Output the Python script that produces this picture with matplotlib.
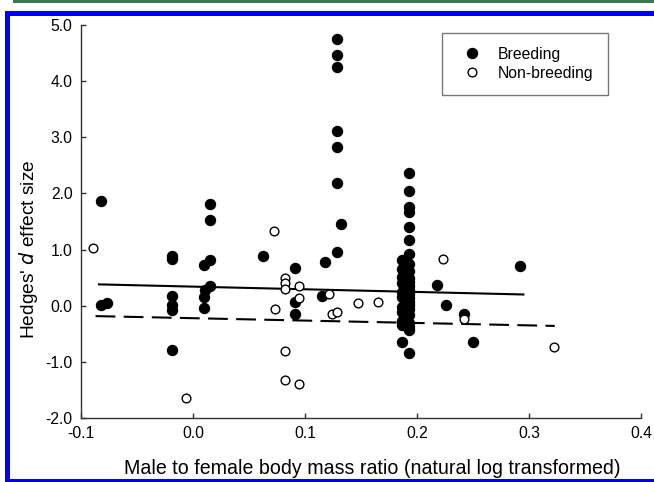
import numpy as np
import matplotlib
matplotlib.use("Agg")
import matplotlib.pyplot as plt
from matplotlib.patches import Rectangle

plt.rcParams['font.family'] = ['Liberation Sans', 'DejaVu Sans']
plt.rcParams['axes.unicode_minus'] = False

# Breeding (filled circles)
breed_x = [-0.0825, -0.082, -0.077,
           -0.019, -0.019, -0.019, -0.019, -0.019, -0.019,
           0.0155, 0.0155, 0.0155, 0.0155, 0.011, 0.010, 0.010, 0.010,
           0.0627, 0.091, 0.091, 0.091, 0.115, 0.118, 0.129, 0.132,
           0.129, 0.129, 0.129, 0.129, 0.129, 0.129,
           0.193, 0.193, 0.193, 0.193, 0.193, 0.193, 0.193, 0.193, 0.193,
           0.193, 0.193, 0.193, 0.193, 0.193, 0.193, 0.193, 0.193, 0.193,
           0.193, 0.193, 0.193, 0.193, 0.193,
           0.187, 0.187, 0.187, 0.187, 0.187, 0.187, 0.187, 0.187, 0.187,
           0.187, 0.187,
           0.218, 0.2256, 0.2416, 0.2496, 0.2917]
breed_y = [1.87, 0.01, 0.05,
           0.89, 0.83, 0.17, 0.01, -0.08, -0.79,
           1.81, 1.52, 0.81, 0.36, 0.28, 0.72, 0.16, -0.04,
           0.89, 0.68, 0.06, -0.155, 0.17, 0.78, 0.96, 1.45,
           4.75, 4.46, 4.25, 3.11, 2.82, 2.19,
           2.37, 2.05, 1.76, 1.67, 1.40, 1.17, 0.93, 0.75, 0.61,
           0.50, 0.43, 0.35, 0.28, 0.20, 0.13, 0.06, 0.01, -0.05,
           -0.17, -0.30, -0.38, -0.43, -0.85,
           0.81, 0.65, 0.52, 0.40, 0.25, 0.16, -0.02, -0.11, -0.27,
           -0.35, -0.64,
           0.37, 0.01, -0.155, -0.64, 0.71]

# Non-breeding (open circles)
nonbreed_x = [-0.089, -0.006, 0.0724, 0.073, 0.082, 0.082, 0.082, 0.082, 0.082,
              0.0947, 0.0947, 0.095, 0.121, 0.124, 0.129, 0.147, 0.165,
              0.2236, 0.2416, 0.322]
nonbreed_y = [1.02, -1.65, 1.33, -0.05, 0.49, 0.41, 0.30, -0.81, -1.33,
              0.35, 0.13, -1.40, 0.20, -0.155, -0.12, 0.05, 0.07,
              0.84, -0.23, -0.74]

# fitted regression lines (end points)
fit_breed_x = [-0.084, 0.295]
fit_breed_y = [0.38, 0.20]
fit_nonbreed_x = [-0.087, 0.323]
fit_nonbreed_y = [-0.185, -0.36]

fig = plt.figure(figsize=(6.54, 4.82), dpi=100)

# page decorations (green rule, blue frame)
fig.add_artist(Rectangle((13/654, 1 - 3/482), 1, 3/482, transform=fig.transFigure,
                         color='#3d7a52', lw=0))
fig.add_artist(Rectangle((5/654, 1 - 16/482), 1, 5/482, transform=fig.transFigure,
                         color='#0000ee', lw=0))
fig.add_artist(Rectangle((5/654, 0), 5/654, 1 - 11/482, transform=fig.transFigure,
                         color='#0000ee', lw=0))
fig.add_artist(Rectangle((5/654, 0), 1, 3/482, transform=fig.transFigure,
                         color='#0000ee', lw=0))

ax = fig.add_axes([81/654, 1 - 418/482, 560/654, 393/482])

ax.plot(fit_breed_x, fit_breed_y, color='black', lw=1.5, zorder=2)
ax.plot(fit_nonbreed_x, fit_nonbreed_y, color='black', lw=1.5, dashes=(9.5, 4), zorder=2)

ax.plot(breed_x, breed_y, 'o', ms=7.2, mfc='black', mec='black', ls='none',
        label='Breeding', zorder=3)
ax.plot(nonbreed_x, nonbreed_y, 'o', ms=6.3, mfc='white', mec='black', mew=1.0,
        ls='none', label='Non-breeding', zorder=4)

ax.set_xlim(-0.1, 0.4)
ax.set_ylim(-2.0, 5.0)
ax.set_xticks(np.arange(-0.1, 0.41, 0.1))
ax.set_yticks(np.arange(-2.0, 5.01, 1.0))
ax.xaxis.set_major_formatter(matplotlib.ticker.FormatStrFormatter('%.1f'))
ax.yaxis.set_major_formatter(matplotlib.ticker.FormatStrFormatter('%.1f'))
ax.tick_params(direction='in', length=3.5, width=1.0, color='#333333',
               labelsize=11.3, pad=6.0)

for side in ['top', 'right']:
    ax.spines[side].set_visible(False)
for side in ['left', 'bottom']:
    ax.spines[side].set_color('#333333')
    ax.spines[side].set_linewidth(1.0)

ax.set_xlabel('Male to female body mass ratio (natural log transformed)', fontsize=14.1)
ax.set_ylabel("Hedges' $\\it{d}$ effect size", fontsize=13.8)
ax.xaxis.set_label_coords(0.52, -0.105)
ax.yaxis.set_label_coords(-0.073, 0.43)

leg = ax.legend(loc='upper left', bbox_to_anchor=(0.645, 0.0, 0.296, 0.98), mode='expand',
                fontsize=11.3, frameon=True, fancybox=False, borderpad=0.9,
                labelspacing=0.25, handlelength=2.0, handletextpad=0.67,
                borderaxespad=0)
leg.get_frame().set_edgecolor('#555555')
leg.get_frame().set_linewidth(1.0)

fig.savefig('out.png', dpi=100)
